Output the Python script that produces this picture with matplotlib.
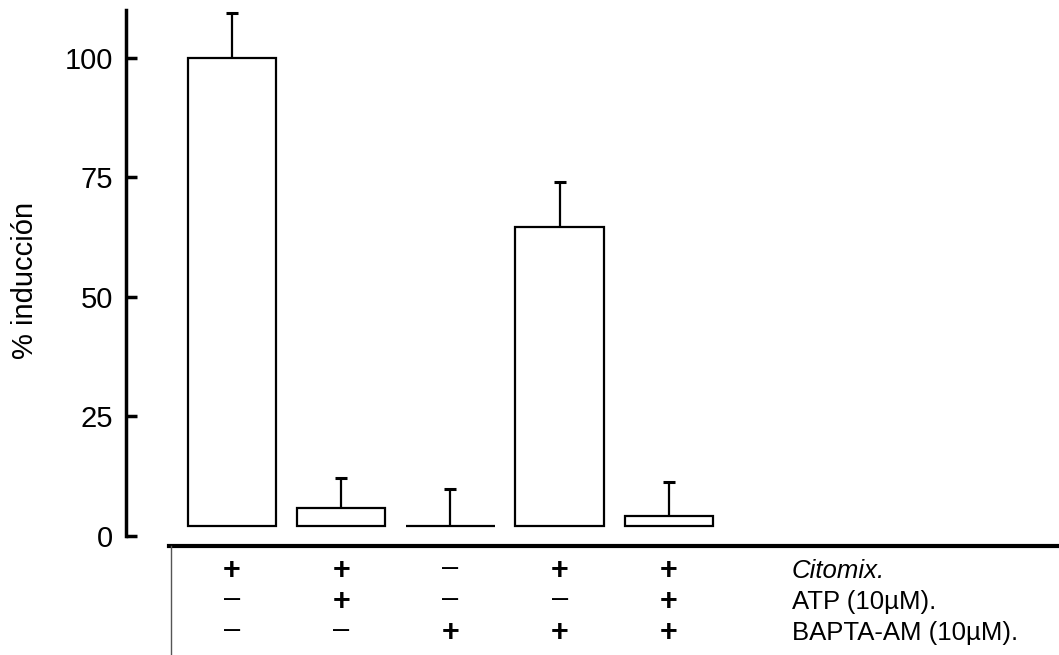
import numpy as np
import matplotlib
matplotlib.use('Agg')
import matplotlib.pyplot as plt
from matplotlib.lines import Line2D
from matplotlib.transforms import blended_transform_factory

# data
bar_top = [100, 5.9, 2.0, 64.6, 4.2]
bar_err = [9.4, 6.2, 7.8, 9.4, 7.1]
base = 2.0

citomix = ['+', '+', '–', '+', '+']
atp = ['–', '+', '–', '–', '+']
bapta = ['–', '–', '+', '+', '+']
row_labels = ['Citomix.', 'ATP (10µM).', 'BAPTA-AM (10µM).']

yticks = [0, 25, 50, 75, 100]

plt.rcParams['font.family'] = ['Liberation Sans', 'DejaVu Sans']

W, H = 1059, 655
fig = plt.figure(figsize=(W / 100, H / 100), dpi=100)
ax = fig.add_axes([126 / W, (H - 536) / H, 1 - 126 / W, (536 - 10) / H])

x = np.arange(len(bar_top))
heights = np.array(bar_top) - base
ax.bar(x, heights, bottom=base, width=0.81, fill=False,
       edgecolor='black', linewidth=1.6)
eb = ax.errorbar(x, bar_top, yerr=[np.zeros(len(bar_err)), bar_err], fmt='none',
                 ecolor='black', elinewidth=1.6, capsize=4, capthick=2.2)
# only the upper caps
eb[1][0].set_visible(False)

ax.set_xlim(-0.971, 7.573)
ax.set_ylim(0, 110)
ax.set_xticks([])
ax.set_yticks(yticks)
ax.tick_params(axis='y', direction='in', length=8, width=2.5, labelsize=21, pad=9)
for s in ['top', 'right', 'bottom']:
    ax.spines[s].set_visible(False)
ax.spines['left'].set_linewidth(2.5)

fig.text(25 / W, (H - 280) / H, '% inducción', rotation=90,
         ha='center', va='center', fontsize=21)

# table below the bars
fig.add_artist(Line2D([169 / W, 1.0], [(H - 546) / H] * 2,
                      transform=fig.transFigure, color='black', lw=3))
fig.add_artist(Line2D([171 / W, 171 / W], [(H - 546) / H, 0],
                      transform=fig.transFigure, color='#555555', lw=1))

trans = blended_transform_factory(ax.transData, fig.transFigure)
row_y = [571, 602, 633]
for row, yy in zip([citomix, atp, bapta], row_y):
    for i, s in enumerate(row):
        if s == '+':
            ax.text(x[i], (H - yy) / H, s, transform=trans, ha='center',
                    va='center', fontsize=22, fontweight='bold')
        else:
            ax.text(x[i], (H - yy + 3) / H, s, transform=trans, ha='center',
                    va='center', fontsize=21)

for i, (lab, yy) in enumerate(zip(row_labels, row_y)):
    fig.text(792 / W, (H - yy) / H, lab, ha='left', va='center', fontsize=18.5,
             style='italic' if i == 0 else 'normal')

fig.savefig('out.png', dpi=100)
